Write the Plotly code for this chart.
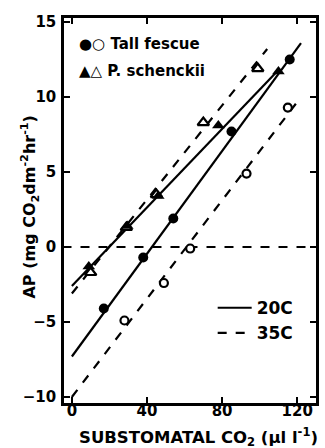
import plotly.graph_objects as go

# ---- data ----
fescue_20_x = [17, 38, 54, 85, 116]
fescue_20_y = [-4.1, -0.7, 1.9, 7.7, 12.5]
fescue_35_x = [28, 49, 63, 93, 115]
fescue_35_y = [-4.9, -2.4, -0.1, 4.9, 9.3]
schenckii_20_x = [9, 29.5, 46, 78, 110]
schenckii_20_y = [-1.3, 1.4, 3.4, 8.1, 11.7]
schenckii_35_x = [10, 29, 45, 70, 99]
schenckii_35_y = [-1.7, 1.3, 3.5, 8.3, 11.9]

# regression line end points
fescue_20_fit_x = [0, 122]
fescue_20_fit_y = [-7.3, 13.6]
fescue_35_fit_x = [0, 122]
fescue_35_fit_y = [-10.0, 10.0]
schenckii_20_fit_x = [0, 110]
schenckii_20_fit_y = [-2.6, 11.8]
schenckii_35_fit_x = [0, 104]
schenckii_35_fit_y = [-3.1, 13.2]

zero_x = [-5, 135]
zero_y = [0, 0]

x_ticks = [0, 40, 80, 120]
y_ticks = [-10, -5, 0, 5, 10, 15]

FONT = "DejaVu Sans"
BLACK = "black"

fig = go.Figure()

def line(x, y, dash, name=None, show=False):
    fig.add_trace(go.Scatter(x=x, y=y, mode="lines",
                             line=dict(color=BLACK, width=2.2, dash=dash),
                             name=name, showlegend=show, hoverinfo="skip"))

line(zero_x, zero_y, "dash")
line(fescue_20_fit_x, fescue_20_fit_y, "solid", "20C", True)
line(fescue_35_fit_x, fescue_35_fit_y, "dash", "35C", True)
line(schenckii_20_fit_x, schenckii_20_fit_y, "solid")
line(schenckii_35_fit_x, schenckii_35_fit_y, "dash")

def pts(x, y, symbol, size, filled):
    fig.add_trace(go.Scatter(
        x=x, y=y, mode="markers", showlegend=False,
        marker=dict(symbol=symbol, size=size,
                    color=BLACK if filled else "white",
                    line=dict(color=BLACK, width=0 if filled else 2.2))))

pts(schenckii_35_x, schenckii_35_y, "triangle-up", 10, False)
pts(schenckii_20_x, schenckii_20_y, "triangle-up", 11, True)
pts(fescue_35_x, fescue_35_y, "circle", 8, False)
pts(fescue_20_x, fescue_20_y, "circle", 10, True)

# symbol key (top-left)
fig.add_annotation(xref="paper", yref="paper", x=0.05, y=0.932, xanchor="left",
                   yanchor="middle", showarrow=False,
                   text="<b>●○ Tall fescue</b>",
                   font=dict(family=FONT, size=15, color=BLACK))
fig.add_annotation(xref="paper", yref="paper", x=0.05, y=0.862, xanchor="left",
                   yanchor="middle", showarrow=False,
                   text="<b>▲△ P. schenckii</b>",
                   font=dict(family=FONT, size=15, color=BLACK))

# axis titles placed as annotations so they sit like the reference
fig.add_annotation(xref="paper", yref="paper", x=0.05, y=-0.088, xanchor="left",
                   yanchor="middle", showarrow=False,
                   text="<b>SUBSTOMATAL CO<sub>2</sub> (µl l<sup>-1</sup>)</b>",
                   font=dict(family=FONT, size=16.5, color=BLACK))
fig.add_annotation(xref="paper", yref="paper", x=-0.137, y=0.509, xanchor="center",
                   yanchor="middle", showarrow=False, textangle=-90,
                   text="<b>AP (mg CO<sub>2</sub>dm<sup>-2</sup>hr<sup>-1</sup>)</b>",
                   font=dict(family=FONT, size=16, color=BLACK))

axis_common = dict(showline=True, linecolor=BLACK, linewidth=2.5, mirror="ticks",
                   ticks="inside", ticklen=6, tickwidth=2, tickcolor=BLACK,
                   showgrid=False, zeroline=False,
                   tickfont=dict(family=FONT, size=15, color=BLACK, weight="bold"))

fig.update_layout(
    width=325, height=448,
    margin=dict(l=64, r=6, t=18, b=45),
    paper_bgcolor="white", plot_bgcolor="white",
    showlegend=True,
    legend=dict(x=0.59, y=0.293, xanchor="left", yanchor="top",
                bgcolor="rgba(0,0,0,0)", borderwidth=0,
                font=dict(family=FONT, size=17, color=BLACK, weight="bold"),
                itemwidth=34, tracegroupgap=0),
    xaxis=dict(range=[-4.2, 130], tickvals=x_ticks, ticklabelstandoff=-8,
               **axis_common),
    yaxis=dict(range=[-10.4, 15.27], tickvals=y_ticks, ticklabelstandoff=2,
               **axis_common),
)

fig.write_html("out.html", config={"displayModeBar": False},
               post_script="document.body.style.margin='0px';")
